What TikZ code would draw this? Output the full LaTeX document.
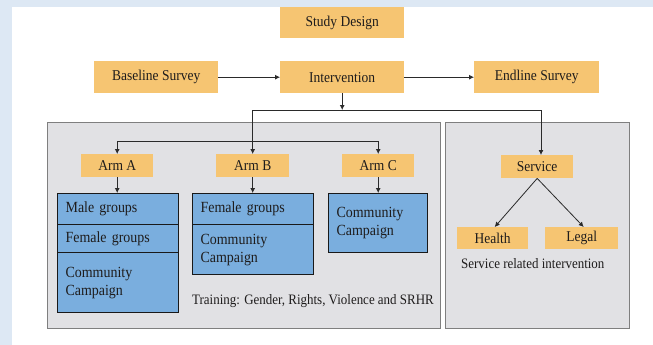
\documentclass[tikz,border=0pt]{standalone}
\usepackage{fontspec}
\setmainfont{Liberation Serif}[FakeStretch=0.9]
\usetikzlibrary{arrows.meta}
\definecolor{bgblue}{HTML}{DDE8F4}
\definecolor{orbox}{HTML}{F6C572}
\definecolor{panelfill}{HTML}{E1E1E4}
\definecolor{bluebox}{HTML}{7AAEDE}
\definecolor{paneledge}{HTML}{7F7F7F}
\definecolor{lnk}{HTML}{2A2A2A}
\definecolor{txt}{HTML}{1E1C1C}
\begin{document}
\begin{tikzpicture}[x=1pt,y=-1pt,
  obox/.style={fill=orbox, text=txt, inner sep=0pt, anchor=north west, font=\fontsize{15}{17}\selectfont},
  bbox/.style={draw=black!90, line width=1.2pt, fill=bluebox, text=txt, anchor=north west, inner xsep=8pt, inner ysep=0pt, align=left, font=\fontsize{15.5}{18}\selectfont},
  panel/.style={draw=paneledge, line width=1.1pt, fill=panelfill, anchor=north west, inner sep=0pt},
  note/.style={anchor=west, inner sep=0pt, text=txt, font=\fontsize{14.4}{16}\selectfont},
  arr/.style={draw=lnk, line width=0.8pt, -{Latex[length=5pt,width=5pt]}},
  ln/.style={draw=lnk, line width=0.8pt}]
\useasboundingbox (0,0) rectangle (653,345);
\fill[bgblue] (0,0) rectangle (653,345);
\fill[white] (12,7) rectangle (653,345);
% panels
\node[panel, minimum width=393pt, minimum height=206pt] (lp) at (47,122) {};
\node[panel, minimum width=184pt, minimum height=206pt] (rp) at (445,122) {};
% top row
\node[obox, minimum width=124pt, minimum height=31pt] (study) at (280,7) {Study Design};
\node[obox, minimum width=124pt, minimum height=32pt] (base) at (94,61) {Baseline Survey};
\node[obox, minimum width=124pt, minimum height=32pt] (inter) at (280,61) {Intervention};
\node[obox, minimum width=125pt, minimum height=32pt] (endl) at (474,61) {Endline Survey};
% arms
\node[obox, minimum width=72pt, minimum height=23pt] (armA) at (81,154) {Arm A};
\node[obox, minimum width=73pt, minimum height=23pt] (armB) at (216,154) {Arm B};
\node[obox, minimum width=72pt, minimum height=23pt] (armC) at (342,154) {Arm C};
\node[obox, minimum width=72pt, minimum height=23pt] (serv) at (501,155) {Service};
\node[obox, minimum width=71pt, minimum height=22pt] (health) at (457,227) {Health};
\node[obox, minimum width=73pt, minimum height=22pt] (legal) at (545,227) {Legal};
% blue boxes
\node[bbox, text width=105pt, minimum height=31pt] (A1) at (57,193) {Male groups};
\node[bbox, text width=105pt, minimum height=28pt] (A2) at (57,224) {Female groups};
\node[bbox, text width=105pt, minimum height=60pt] (A3) at (57,252) {Community\\Campaign};
\node[bbox, text width=105pt, minimum height=31pt] (B1) at (192,193) {Female groups};
\node[bbox, text width=105pt, minimum height=50pt] (B2) at (192,224) {Community\\Campaign};
\node[bbox, text width=83pt, minimum height=59pt] (C1) at (328,193) {Community\\Campaign};
% notes
\node[note] (train) at (192,301) {Training: Gender, Rights, Violence and SRHR};
\node[note] (servnote) at (461,264) {Service related intervention};
% junctions
\coordinate (hrow) at (0,110);
\coordinate (hr) at (541,110);
\coordinate (armrow) at (0,141);
% connectors
\draw[arr] (base.east) -- (inter.west);
\draw[arr] (inter.east) -- (endl.west);
\draw[arr] (inter.south) -- (inter.south |- hrow);
\draw[ln] (armB.north |- hrow) -- (hr);
\draw[arr] (hr) -- (hr |- serv.north);
\draw[arr] (armB.north |- hrow) -- (armB.north);
\draw[arr] (armA.north |- armrow) -- (armA.north);
\draw[arr] (armA.north |- armrow) -- (armC.north |- armrow) -- (armC.north);
\draw[arr] (armA.south) -- (armA.south |- A1.north);
\draw[arr] (armB.south) -- (armB.south |- B1.north);
\draw[arr] (armC.south) -- (armC.south |- C1.north);
\draw[arr] (serv.south) -- ([xshift=2pt]health.north);
\draw[arr] (serv.south) -- ([xshift=2pt]legal.north);
\end{tikzpicture}
\end{document}
